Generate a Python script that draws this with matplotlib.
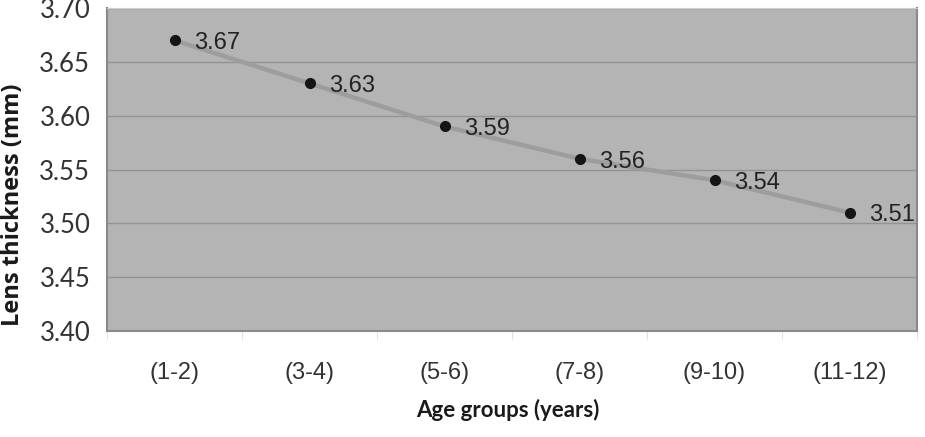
import matplotlib.pyplot as plt

# data
groups = ['(1-2)', '(3-4)', '(5-6)', '(7-8)', '(9-10)', '(11-12)']
thickness = [3.67, 3.63, 3.59, 3.56, 3.54, 3.51]
yticks = [3.40, 3.45, 3.50, 3.55, 3.60, 3.65, 3.70]

fig = plt.figure(figsize=(9.25, 4.37), dpi=100)
ax = fig.add_axes([107 / 925, 1 - 331 / 437, (917 - 107) / 925, (331 - 8) / 437])
ax.set_facecolor('#b4b4b4')

x = list(range(len(groups)))
ax.plot(x, thickness, color='#9d9d9d', lw=3.2, zorder=3, solid_capstyle='round')
ax.plot(x, thickness, 'o', color='#151515', ms=7, zorder=4)
for xi, v in zip(x, thickness):
    ax.annotate(f'{v:.2f}', (xi, v), xytext=(14, -2), textcoords='offset points',
                ha='left', va='center', fontsize=17, family='Liberation Sans', color='#222222', zorder=5)

ax.set_xlim(-0.5, len(groups) - 0.5)
ax.set_ylim(3.40, 3.70)
ax.set_yticks(yticks)
ax.set_yticklabels([f'{t:.2f}' for t in yticks], family='Lato', fontsize=18.5, color='#333333')
ax.set_xticks(x)
ax.set_xticklabels(groups, family='Liberation Sans', fontsize=17, color='#333333')
ax.set_xticks([i - 0.5 for i in range(len(groups) + 1)], minor=True)
ax.tick_params(axis='x', which='major', length=0, pad=22)
ax.tick_params(axis='x', which='minor', length=6, color='#dddddd')
ax.tick_params(axis='y', length=0, pad=12)
ax.grid(axis='y', color='#939393', lw=1)
ax.set_axisbelow(True)
for s in ['left', 'bottom', 'right']:
    ax.spines[s].set_color('#8a8a8a')
    ax.spines[s].set_linewidth(1.5)
ax.spines['top'].set_color('#cfcfcf')

ax.set_ylabel('Lens thickness (mm)', family='Open Sans', fontweight='bold', fontsize=17, color='#1a1a1a')
ax.yaxis.set_label_coords(-0.101, 0.39)
ax.set_xlabel('Age groups (years)', family='Lato', fontweight='bold', fontsize=16, color='#1a1a1a')
ax.xaxis.set_label_coords(0.495, -0.21)

fig.savefig('out.png', dpi=100)
